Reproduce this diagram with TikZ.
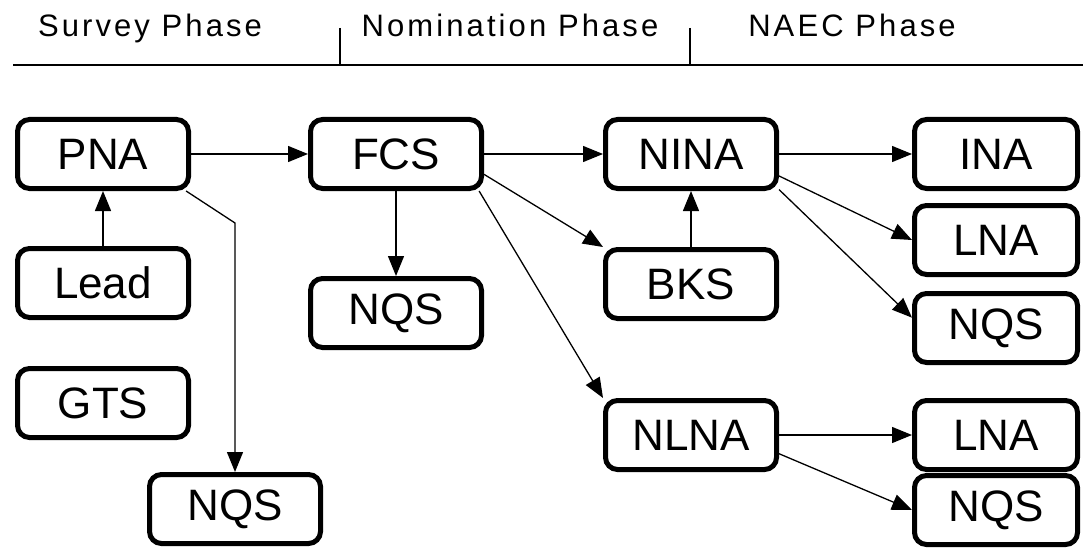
\documentclass[tikz,border=0pt]{standalone}
\usepackage{fontspec}
\setmainfont{Liberation Sans}
\newfontfamily\phasefont[LetterSpace=10]{Liberation Sans}
\usetikzlibrary {arrows.meta}
\tikzset{kasten/.style = {
shape=rectangle, draw, line width=5pt, rounded corners=12pt, minimum width=171pt, minimum height=69pt, inner sep=0pt, font=\fontsize{44}{44}\selectfont
}}
\tikzset{rkasten/.style = {kasten, minimum width=163pt}}
\tikzset{pfeil/.style = {-{Triangle[length=20pt,width=16pt]}, line width=1.3pt}}
\tikzset{phase/.style = {anchor=base, inner sep=0pt, font=\phasefont\fontsize{31}{31}\selectfont}}

\begin{document}
\begin{tikzpicture}[x=1pt,y=-1pt]
\useasboundingbox (0,0) rectangle (1083,548);

\node[phase] (survey) at (150,37){Survey Phase};
\node[phase] (nomination) at (510,37){Nomination Phase};
\node[phase] (naec) at (852,37){NAEC Phase};

\draw [line width=1.3pt] (13,65) -- (1083,65);
\draw [line width=1.3pt] (340,28) -- (340,65);
\draw [line width=1.3pt] (690,28) -- (690,65);

\node[kasten] (pna) at (103,154){PNA};
\node[kasten] (lead) at (103,283){Lead};
\node[kasten] (gts) at (103,403){GTS};
\node[kasten] (nqsa) at (235,509){NQS};

\node[kasten] (fcs) at (396,154){FCS};
\node[kasten] (nqsm) at (396,313){NQS};

\node[kasten] (nina) at (691,154){NINA};
\node[kasten] (bks) at (691,284){BKS};
\node[kasten] (nlna) at (691,435){NLNA};

\node[rkasten] (ina) at (996,154){INA};
\node[rkasten] (lnaa) at (996,240){LNA};
\node[rkasten] (nqsb) at (996,328){NQS};
\node[rkasten] (lnab) at (996,435){LNA};
\node[rkasten] (nqsc) at (996,510){NQS};

\coordinate (knick) at (235,223);

\draw [pfeil] (lead) -- (pna);
\draw [pfeil] (pna) -- (fcs);
\draw [pfeil] (pna.-24) -- (knick) -- (nqsa);

\draw [pfeil] (fcs) -- (nina);
\draw [pfeil] (fcs) -- (nqsm);
\draw [pfeil] (fcs.-13) -- (bks.north west);
\draw [pfeil] (fcs.-24) -- (nlna.north west);

\draw [pfeil] (bks) -- (nina);
\draw [pfeil] (nina) -- (ina);
\draw [pfeil] (nina.-14) -- (lnaa.west);
\draw [pfeil] (nina.-22) -- (nqsb.173);

\draw [pfeil] (nlna) -- (lnab);
\draw [pfeil] (nlna.-12) -- (nqsc.west);

\end{tikzpicture}
\end{document}
